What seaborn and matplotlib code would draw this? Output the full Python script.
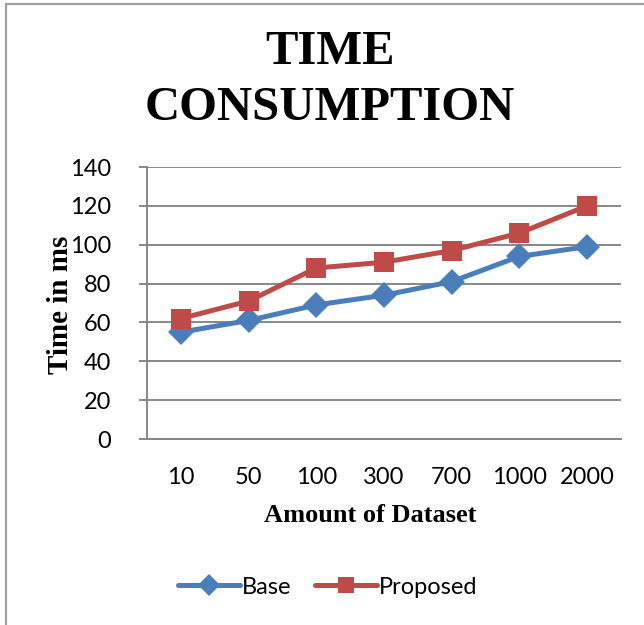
import matplotlib
matplotlib.use("Agg")
import matplotlib.pyplot as plt
from matplotlib.lines import Line2D
import seaborn as sns
import pandas as pd

categories = ["10", "50", "100", "300", "700", "1000", "2000"]
base = [55, 61, 69, 74, 81, 94, 99]
proposed = [62, 71, 88, 91, 97, 106, 120]
series_names = ["Base", "Proposed"]
y_ticks = [0, 20, 40, 60, 80, 100, 120, 140]

df = pd.DataFrame({
    "Amount": categories * 2,
    "Time": base + proposed,
    "Series": [series_names[0]] * len(categories) + [series_names[1]] * len(categories),
})

sns.set_theme(style="white")
plt.rcParams["font.family"] = ["Lato", "DejaVu Sans"]
plt.rcParams["text.color"] = "black"
plt.rcParams["axes.labelcolor"] = "black"

blue = "#4A7EBB"
red = "#BE4B48"
grid_gray = "#878787"

fig = plt.figure(figsize=(6.44, 6.25), dpi=100)
ax = fig.add_axes([147 / 644, (625 - 439) / 625, 474 / 644, 272 / 625])

sns.lineplot(
    data=df, x="Amount", y="Time", hue="Series", style="Series",
    palette={"Base": blue, "Proposed": red},
    markers={"Base": "D", "Proposed": "s"}, dashes=False,
    linewidth=3.6, markersize=13, markeredgewidth=0,
    sort=False, legend=False, ax=ax, zorder=3,
)
for line in ax.lines:
    if line.get_marker() == "s":
        line.set_markersize(14)

ax.set_xlim(-0.5, len(categories) - 0.5)
ax.set_ylim(0, 140)
ax.set_yticks(y_ticks)
ax.yaxis.grid(True, color=grid_gray, linewidth=1.4)
ax.set_axisbelow(True)
for side in ["top", "right"]:
    ax.spines[side].set_visible(False)
for side in ["left", "bottom"]:
    ax.spines[side].set_color(grid_gray)
    ax.spines[side].set_linewidth(1.4)
ax.tick_params(axis="y", which="both", left=True, length=6, width=1.4,
               color=grid_gray, labelsize=17, pad=20, labelcolor="black")
ax.tick_params(axis="x", bottom=False, labelsize=17, pad=14, labelcolor="black")

ax.set_xlabel("")
ax.set_ylabel("")
fig.text(370 / 644, 1 - 516 / 625, "Amount of Dataset", ha="center", va="center",
         family="Liberation Serif", fontweight="bold", fontsize=19)
fig.text(60 / 644, 1 - 305 / 625, "Time in ms", ha="center", va="center", rotation=90,
         family="Liberation Serif", fontweight="bold", fontsize=21)

fig.text(330 / 644, 1 - 52 / 625, "TIME", ha="center", va="center",
         family="Liberation Serif", fontweight="bold", fontsize=35)
fig.text(330 / 644, 1 - 108 / 625, "CONSUMPTION", ha="center", va="center",
         family="Liberation Serif", fontweight="bold", fontsize=35)

handles = [
    Line2D([], [], color=blue, lw=3.6, marker="D", markersize=11, markeredgewidth=0),
    Line2D([], [], color=red, lw=3.6, marker="s", markersize=12, markeredgewidth=0),
]
fig.legend(handles, series_names, loc="center", bbox_to_anchor=(328 / 644, 1 - 587 / 625),
           ncol=2, frameon=False, fontsize=17, handlelength=2.6, handletextpad=0.1,
           columnspacing=1.0)

# outer frame (left and top edges)
fig.add_artist(Line2D([6 / 644, 6 / 644], [0, 1 - 4 / 625], transform=fig.transFigure,
                      color="#A0A0A0", lw=1.6))
fig.add_artist(Line2D([6 / 644, 1], [1 - 4 / 625, 1 - 4 / 625], transform=fig.transFigure,
                      color="#A0A0A0", lw=1.6))

fig.savefig("out.png", dpi=100)
